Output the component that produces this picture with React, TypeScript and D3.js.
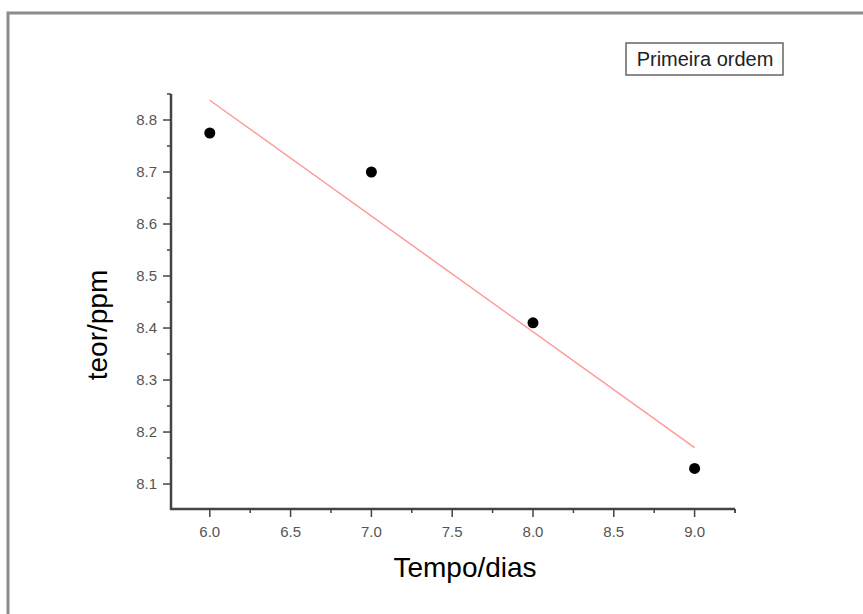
import React from "react";
import * as d3 from "d3";

const xValues = [6, 7, 8, 9];
const yValues = [8.775, 8.70, 8.41, 8.13];
const fitX = [6, 9];
const fitY = [8.838, 8.17];
const xTicks = [6.0, 6.5, 7.0, 7.5, 8.0, 8.5, 9.0];
const yTicks = [8.1, 8.2, 8.3, 8.4, 8.5, 8.6, 8.7, 8.8];
const xTitle = "Tempo/dias";
const yTitle = "teor/ppm";
const legendText = "Primeira ordem";

export default function App() {
  const W = 863, H = 614;
  const left = 171, right = 735, top = 94, bottom = 509;
  const x = d3.scaleLinear().domain([5.76, 9.25]).range([left, right]);
  const y = d3.scaleLinear().domain([8.052, 8.85]).range([bottom, top]);
  const xMinor = d3.range(5.75, 9.26, 0.25).filter(v => v >= 5.76 && v <= 9.25 && !xTicks.some(t => Math.abs(t - v) < 1e-6));
  const yMinor = d3.range(8.05, 8.851, 0.05).filter(v => v >= 8.052 && v <= 8.85 && !yTicks.some(t => Math.abs(t - v) < 1e-6));
  const line = d3.line<number>().x((_, i) => x(fitX[i])).y((d) => y(d));
  const axisColor = "#444";
  const font = "'Liberation Sans', Arial, sans-serif";
  return (
    <svg width={W} height={H} style={{ position: "absolute", left: 0, top: 0, background: "#fff" }}>
      <path d={`M8,${H} L8,13 L${W},13`} fill="none" stroke="#8c8c8c" strokeWidth={3} />
      {/* axes */}
      <line x1={left} x2={left} y1={top} y2={bottom + 1} stroke={axisColor} strokeWidth={2.5} />
      <line x1={left - 1} x2={right} y1={bottom} y2={bottom} stroke={axisColor} strokeWidth={2.5} />
      {yTicks.map(t => (
        <g key={"y" + t}>
          <line x1={left - 8} x2={left} y1={y(t)} y2={y(t)} stroke={axisColor} strokeWidth={1.5} />
          <text x={left - 14} y={y(t)} dy="0.36em" textAnchor="end" fontSize={15} fill="#555" fontFamily={font}>{t.toFixed(1)}</text>
        </g>
      ))}
      {yMinor.map(t => (
        <line key={"ym" + t} x1={left - 4} x2={left} y1={y(t)} y2={y(t)} stroke={axisColor} strokeWidth={1.5} />
      ))}
      <line x1={left - 4} x2={left} y1={top} y2={top} stroke={axisColor} strokeWidth={1.5} />
      {xTicks.map(t => (
        <g key={"x" + t}>
          <line x1={x(t)} x2={x(t)} y1={bottom} y2={bottom + 8} stroke={axisColor} strokeWidth={1.5} />
          <text x={x(t)} y={bottom + 28} textAnchor="middle" fontSize={15} fill="#555" fontFamily={font}>{t.toFixed(1)}</text>
        </g>
      ))}
      {xMinor.map(t => (
        <line key={"xm" + t} x1={x(t)} x2={x(t)} y1={bottom} y2={bottom + 4} stroke={axisColor} strokeWidth={1.5} />
      ))}
      <line x1={right} x2={right} y1={bottom} y2={bottom + 4} stroke={axisColor} strokeWidth={1.5} />
      {/* fit line */}
      <path d={line(fitY) || ""} fill="none" stroke="#ff9a9a" strokeWidth={1.5} />
      {/* points */}
      {xValues.map((v, i) => (
        <circle key={"p" + i} cx={x(v)} cy={y(yValues[i])} r={5.5} fill="#000" />
      ))}
      {/* titles */}
      <text x={465} y={577} textAnchor="middle" fontSize={28} fill="#000" fontFamily={font}>{xTitle}</text>
      <text transform={`translate(107, 325) rotate(-90)`} textAnchor="middle" fontSize={28} fill="#000" fontFamily={font}>{yTitle}</text>
      {/* legend */}
      <rect x={626} y={43} width={157} height={32} fill="#fff" stroke="#666" strokeWidth={1.5} />
      <text x={705} y={66} textAnchor="middle" fontSize={20} fill="#222" fontFamily={font}>{legendText}</text>
    </svg>
  );
}
